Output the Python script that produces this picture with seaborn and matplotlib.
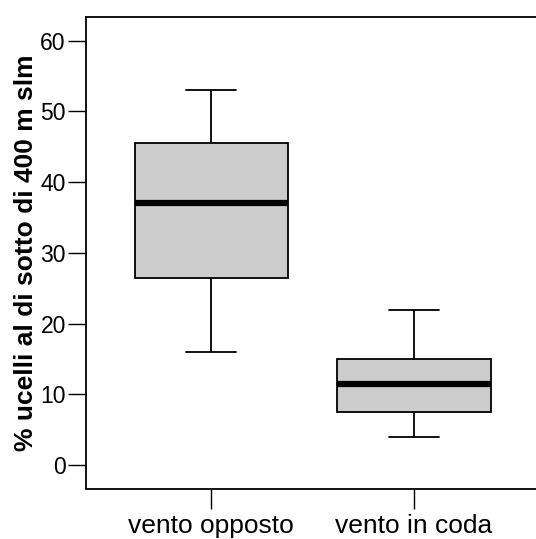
# Boxplot: share of birds below 400 m a.s.l., headwind vs tailwind

import numpy as np
import pandas as pd
import matplotlib
matplotlib.use("Agg")
import matplotlib.pyplot as plt
import seaborn as sns

# five-number summaries (min, q1, median, q3, max)
categories = ["vento opposto", "vento in coda"]
vento_opposto = [16, 26.5, 37, 45.5, 53]
vento_in_coda = [4, 7.5, 11.5, 15, 22]
y_ticks = [0, 10, 20, 30, 40, 50, 60]
y_label = "% ucelli al di sotto di 400 m slm"

df = pd.DataFrame({
    "vento": [categories[0]] * len(vento_opposto) + [categories[1]] * len(vento_in_coda),
    "perc": vento_opposto + vento_in_coda,
})

sns.set_style("white")
plt.rcParams["font.family"] = ["Liberation Sans", "DejaVu Sans"]
# plain black text, like the original R plot
plt.rcParams["text.color"] = "black"
plt.rcParams["axes.labelcolor"] = "black"
plt.rcParams["xtick.color"] = "black"
plt.rcParams["ytick.color"] = "black"

fig = plt.figure(figsize=(5.36, 5.39), dpi=100)
ax = fig.add_axes([86 / 536, 1 - 488.5 / 539, 1 - 86 / 536, (488.5 - 16.7) / 539])

# whis=(0, 100) -> whiskers go to min and max, like the R plot
sns.boxplot(data=df, x="vento", y="perc", order=categories, ax=ax,
            whis=(0, 100), width=0.754, color="#cccccc", saturation=1,
            linecolor="black", linewidth=1.3, capwidths=0.25,
            medianprops={"linewidth": 4.5, "color": "black"})

ax.set_xlim(-0.616, 1.601)
ax.set_ylim(-3.3, 63.4)
ax.set_yticks(y_ticks)
ax.set_xlabel("")
ax.set_ylabel(y_label, fontsize=19, fontweight="bold", labelpad=2)

for side in ["left", "top", "bottom"]:
    ax.spines[side].set_visible(True)
    ax.spines[side].set_color("black")
    ax.spines[side].set_linewidth(1.3)
ax.spines["right"].set_visible(False)

ax.tick_params(axis="y", length=13, width=1, pad=1.5, labelsize=16.5,
               left=True, color="black", labelcolor="black")
ax.tick_params(axis="x", length=14.5, width=1, pad=4, labelsize=19,
               bottom=True, color="black", labelcolor="black")

fig.savefig("out.png", dpi=100)
